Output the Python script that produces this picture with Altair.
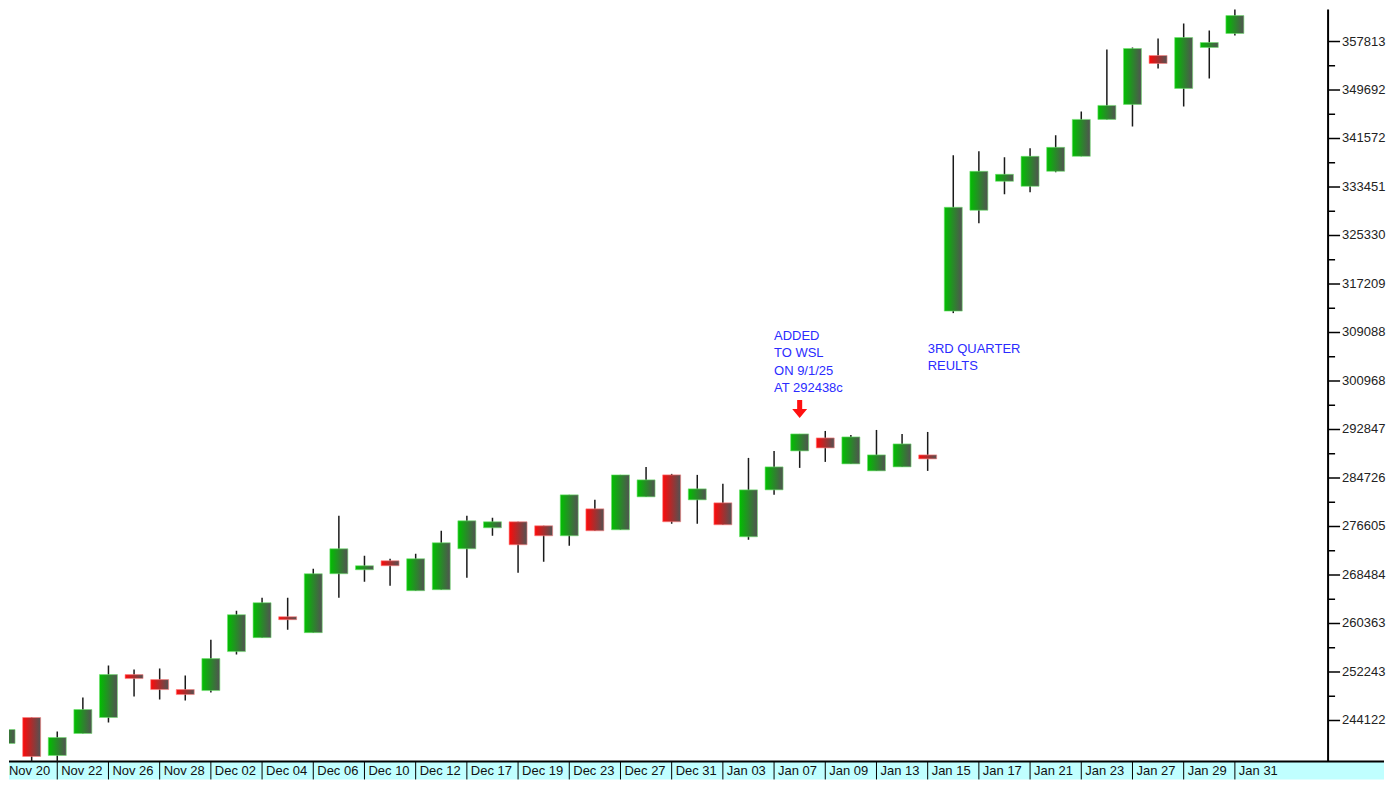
import altair as alt
import pandas as pd

# ---------------- data ----------------
trade_dates = ["Nov 20", "Nov 21", "Nov 22", "Nov 25", "Nov 26", "Nov 27", "Nov 28", "Nov 29",
               "Dec 02", "Dec 03", "Dec 04", "Dec 05", "Dec 06", "Dec 09", "Dec 10", "Dec 11",
               "Dec 12", "Dec 13", "Dec 17", "Dec 18", "Dec 19", "Dec 20", "Dec 23", "Dec 24",
               "Dec 27", "Dec 30", "Dec 31", "Jan 02", "Jan 03", "Jan 06", "Jan 07", "Jan 08",
               "Jan 09", "Jan 10", "Jan 13", "Jan 14", "Jan 15", "Jan 16", "Jan 17", "Jan 20",
               "Jan 21", "Jan 22", "Jan 23", "Jan 24", "Jan 27", "Jan 28", "Jan 29", "Jan 30",
               "Jan 31"]

opens = [240271, 244619, 238265, 241943, 244619, 251808, 250972, 249300, 249133, 255654,
         257995, 261506, 258831, 268695, 269364, 270869, 265853, 266020, 272875, 276387,
         277390, 276721, 275049, 279563, 276052, 281570, 285248, 281068, 280567, 274882,
         282740, 289261, 291435, 287087, 285917, 286586, 288592, 312669, 329556, 334405,
         333569, 336077, 338585, 344771, 347279, 355472, 349955, 356810, 359151]
highs = [246792, 244619, 242278, 247963, 253313, 252644, 252811, 251641, 257660, 262509,
         264683, 264683, 269531, 278393, 271705, 271203, 272039, 275885, 278393, 278059,
         277390, 276721, 281904, 281068, 285248, 286586, 285415, 285248, 283743, 288091,
         289261, 292103, 292605, 291936, 292772, 292103, 292438, 338752, 339421, 338418,
         339923, 342096, 346109, 356475, 356810, 358315, 360823, 359652, 365200]
lows = [240271, 237095, 234921, 241943, 243783, 248130, 247628, 247461, 248799, 255152,
        257995, 259332, 258831, 264683, 267358, 266689, 265853, 266020, 268027, 275049,
        268863, 270702, 273377, 275885, 276052, 281570, 277055, 277055, 276888, 274380,
        281904, 286419, 287422, 287087, 285917, 286586, 285917, 312335, 327383, 332231,
        332566, 335910, 338585, 344771, 343601, 353299, 346945, 351627, 358816]
closes = [242612, 238098, 241275, 245956, 251808, 251139, 249300, 248464, 254483, 261840,
          263847, 261004, 268695, 272875, 270033, 270033, 271203, 273879, 277557, 277390,
          273544, 275049, 281904, 275885, 285248, 284412, 277390, 282907, 276888, 282740,
          286586, 292103, 289763, 291602, 288592, 290431, 287923, 330058, 336077, 335575,
          338585, 340090, 344771, 347112, 356643, 354135, 358482, 357646, 362160]

axis_labels = [244122, 252243, 260363, 268484, 276605, 284726, 292847, 300968,
               309088, 317209, 325330, 333451, 341572, 349692, 357813]

note1_text = "ADDED\nTO WSL\nON 9/1/25\nAT 292438c"
note1_pos = (30, 307820)
note2_text = "3RD QUARTER\nREULTS"
note2_pos = (36, 305647)
arrow_pos = (31, 296283)

# ---------------- layout (plot area starts at page 8,8) ----------------
W, H = 1321, 753
STEP = 25.833
PX = 167.2          # price units per pixel in the reference
x_dom = [8 / STEP, 1329 / STEP]
y_top = 363163
y_dom = [y_top - PX * H, y_top]
BAND = 18
FULLW = 1377

df = pd.DataFrame({"i": list(range(len(trade_dates))), "date": trade_dates,
                   "open": opens, "high": highs, "low": lows, "close": closes})

lab_df = pd.DataFrame({"i": list(range(0, len(trade_dates), 2)),
                       "date": trade_dates[::2]})
major_df = pd.DataFrame({"v": axis_labels, "t": [str(v) for v in axis_labels]})
minor_df = pd.DataFrame({"v": [(a + b) / 2 for a, b in zip(axis_labels[:-1], axis_labels[1:])]})

xs = alt.Scale(domain=x_dom, nice=False, zero=False)
ys = alt.Scale(domain=y_dom, nice=False, zero=False)
X = alt.X("i:Q", scale=xs, axis=None)


def Y(field):
    return alt.Y(field, scale=ys, axis=None)


green_grad = {"gradient": "linear", "x1": 0, "x2": 1, "y1": 0, "y2": 0,
              "stops": [{"offset": 0, "color": "#00c000"},
                        {"offset": 1, "color": "#525252"}]}
red_grad = {"gradient": "linear", "x1": 0, "x2": 1, "y1": 0, "y2": 0,
            "stops": [{"offset": 0, "color": "#ff0a0a"},
                      {"offset": 1, "color": "#525252"}]}

one = pd.DataFrame({"a": [0]})
base = alt.Chart(df)

band = alt.Chart(one).mark_rect(color="#c0ffff").encode(
    x=alt.value(0), x2=alt.value(FULLW), y=alt.value(H), y2=alt.value(H + BAND))

seps = alt.Chart(lab_df).transform_filter("datum.i > 0").mark_rule(
    color="#000000", strokeWidth=1).encode(x=X, y=alt.value(H), y2=alt.value(H + BAND))

date_text = alt.Chart(lab_df).transform_filter("datum.i > 0").mark_text(
    align="left", baseline="alphabetic", dx=4, font="Liberation Sans",
    fontSize=13, color="#111111").encode(x=X, y=alt.value(H + 14), text="date:N")

first_text = alt.Chart(lab_df).transform_filter("datum.i == 0").mark_text(
    align="left", baseline="alphabetic", font="Liberation Sans",
    fontSize=13, color="#111111").encode(x=alt.value(0), y=alt.value(H + 14), text="date:N")

bottom_line = alt.Chart(one).mark_rule(color="#000000", strokeWidth=2).encode(
    x=alt.value(0), x2=alt.value(FULLW), y=alt.value(H))

axis_line = alt.Chart(one).mark_rule(color="#000000", strokeWidth=2).encode(
    x=alt.value(W), y=alt.value(0), y2=alt.value(H))

major_ticks = alt.Chart(major_df).mark_rule(color="#000000", strokeWidth=1.5).encode(
    x=alt.value(W), x2=alt.value(W + 12), y=Y("v:Q"))

major_text = alt.Chart(major_df).mark_text(
    align="left", baseline="middle", font="Liberation Sans", fontSize=13,
    color="#222222").encode(x=alt.value(W + 14), y=Y("v:Q"), text="t:N")

minor_ticks = alt.Chart(minor_df).mark_rule(color="#000000", strokeWidth=1.5).encode(
    x=alt.value(W), x2=alt.value(W + 7), y=Y("v:Q"))

wicks = base.mark_rule(color="#1a1a1a", strokeWidth=1.5, clip=True).encode(
    x=X, y=Y("low:Q"), y2="high:Q")

up_bodies = base.transform_filter("datum.close >= datum.open").mark_bar(
    size=18, clip=True, color=green_grad, stroke="#6fe06f", strokeWidth=1,
    strokeOpacity=0.6).encode(x=X, y=Y("open:Q"), y2="close:Q")

down_bodies = base.transform_filter("datum.close < datum.open").mark_bar(
    size=18, clip=True, color=red_grad, stroke="#ff8080", strokeWidth=1,
    strokeOpacity=0.6).encode(x=X, y=Y("open:Q"), y2="close:Q")

notes = alt.Chart(pd.DataFrame({
    "i": [note1_pos[0], note2_pos[0]],
    "v": [note1_pos[1], note2_pos[1]],
    "t": [note1_text, note2_text]})).mark_text(
    align="left", baseline="alphabetic", lineBreak="\n", lineHeight=17.4,
    font="Liberation Sans", fontSize=13, color="#2b2bff").encode(
    x=X, y=Y("v:Q"), text="t:N")

arrow = alt.Chart(pd.DataFrame({"i": [arrow_pos[0]], "v": [arrow_pos[1]]})).mark_point(
    shape="M-0.28,-1L0.28,-1L0.28,0L0.83,0L0,1L-0.83,0L-0.28,0Z",
    size=324, filled=True, color="#ff1010", opacity=1).encode(x=X, y=Y("v:Q"))

chart = alt.layer(
    band, seps, date_text, first_text, bottom_line, axis_line, major_ticks, minor_ticks,
    major_text, wicks, up_bodies, down_bodies, notes, arrow
).properties(
    width=W, height=H,
    padding=0,
    background="#ffffff",
).configure_view(stroke=None)

chart.save("out.html", embed_options={"renderer": "svg", "actions": False})
